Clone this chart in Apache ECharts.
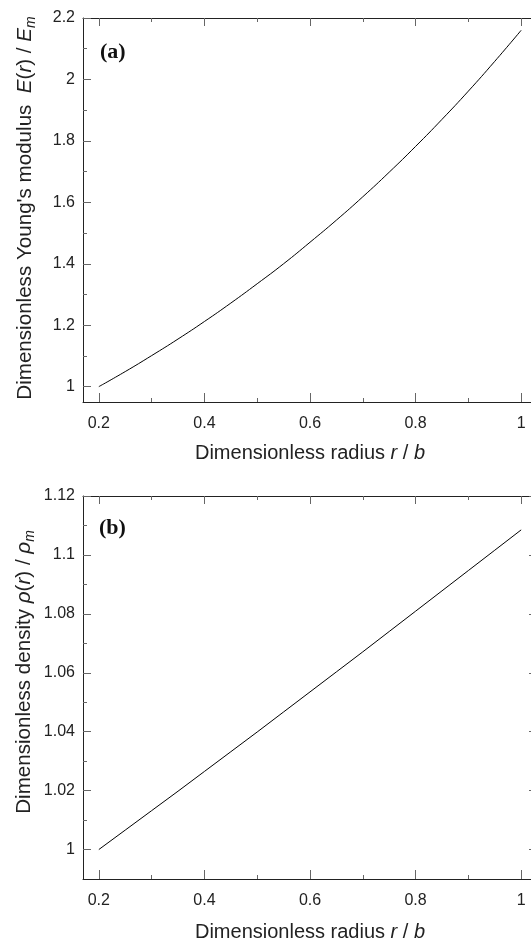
<!DOCTYPE html>
<html>
<head>
<meta charset="utf-8">
<script src="https://cdn.jsdelivr.net/npm/echarts@6/dist/echarts.min.js"></script>
<style>
  html, body { margin: 0; padding: 0; background: #fff; }
  #chart { width: 531px; height: 940px; }
</style>
</head>
<body>
<div id="chart"></div>
<script>
// radius r / b
const radius = [0.2, 0.25, 0.3, 0.35, 0.4, 0.45, 0.5, 0.55, 0.6, 0.65, 0.7, 0.75, 0.8, 0.85, 0.9, 0.95, 1.0];
// panel (a): E(r) / Em
const youngs = [1.000, 1.049, 1.101, 1.155, 1.212, 1.272, 1.335, 1.400, 1.470, 1.542, 1.618, 1.698, 1.782, 1.870, 1.962, 2.059, 2.160];
// panel (b): rho(r) / rho_m
const density = [1.000, 1.0066, 1.0132, 1.0198, 1.0265, 1.0332, 1.0399, 1.0467, 1.0535, 1.0603, 1.0671, 1.0740, 1.0809, 1.0878, 1.0947, 1.1016, 1.1085];

const xMajor = [0.2, 0.4, 0.6, 0.8, 1.0];
const xMinor = [0.3, 0.5, 0.7, 0.9];
const yMajorA = [1.0, 1.2, 1.4, 1.6, 1.8, 2.0, 2.2];
const yMinorA = [1.1, 1.3, 1.5, 1.7, 1.9, 2.1];
const yMajorB = [1.0, 1.02, 1.04, 1.06, 1.08, 1.1, 1.12];
const yMinorB = [1.01, 1.03, 1.05, 1.07, 1.09, 1.11];

const FONT = 'Liberation Sans';
const lineCol = '#222';
const tickCol = '#666';
const fmt = v => String(+(+v).toFixed(3));

function xAxes(grid) {
  const base = { type: 'value', gridIndex: grid, min: 0.17, max: 1.03, splitLine: { show: false } };
  return [
    Object.assign({}, base, {
      position: 'bottom',
      axisLine: { show: true, lineStyle: { color: lineCol, width: 1 } },
      axisTick: { show: true, inside: true, length: 9, customValues: xMajor, lineStyle: { color: tickCol } },
      axisLabel: { show: true, customValues: xMajor, formatter: fmt, margin: 14, color: lineCol, fontSize: 16, fontFamily: FONT }
    }),
    Object.assign({}, base, {
      position: 'bottom',
      axisLine: { show: false },
      axisTick: { show: true, inside: true, length: 4, customValues: xMinor, lineStyle: { color: tickCol } },
      axisLabel: { show: false }
    }),
    Object.assign({}, base, {
      position: 'top',
      axisLine: { show: true, lineStyle: { color: lineCol, width: 1 } },
      axisTick: { show: true, inside: true, length: 8, customValues: xMajor, lineStyle: { color: tickCol } },
      axisLabel: { show: false }
    }),
    Object.assign({}, base, {
      position: 'top',
      axisLine: { show: false },
      axisTick: { show: true, inside: true, length: 4, customValues: xMinor, lineStyle: { color: tickCol } },
      axisLabel: { show: false }
    })
  ];
}

function yAxes(grid, min, max, major, minor, withRight) {
  const base = { type: 'value', gridIndex: grid, min: min, max: max, splitLine: { show: false } };
  const list = [
    Object.assign({}, base, {
      position: 'left',
      axisLine: { show: true, lineStyle: { color: lineCol, width: 1 } },
      axisTick: { show: true, inside: true, length: 8, customValues: major, lineStyle: { color: tickCol } },
      axisLabel: { show: true, customValues: major, formatter: fmt, margin: 8, color: lineCol, fontSize: 16, fontFamily: FONT }
    }),
    Object.assign({}, base, {
      position: 'left',
      axisLine: { show: false },
      axisTick: { show: true, inside: true, length: 4, customValues: minor, lineStyle: { color: tickCol } },
      axisLabel: { show: false }
    })
  ];
  if (withRight) {
    list.push(Object.assign({}, base, {
      position: 'right',
      axisLine: { show: true, lineStyle: { color: lineCol, width: 1 } },
      axisTick: { show: true, inside: true, length: 8, customValues: major, lineStyle: { color: tickCol } },
      axisLabel: { show: false }
    }));
  }
  return list;
}

const xA = xAxes(0), xB = xAxes(1);
const yA = yAxes(0, 0.95, 2.2, yMajorA, yMinorA, false);
const yB = yAxes(1, 0.99, 1.12, yMajorB, yMinorB, true);

function makeRich(size) {
  return {
    i: { fontStyle: 'italic', fontSize: size, fontFamily: FONT, lineHeight: 26 },
    sub: { fontStyle: 'italic', fontSize: 14, fontFamily: FONT, lineHeight: 14, verticalAlign: 'bottom' }
  };
}

function nameText(x, y, text, rotate, size) {
  return {
    type: 'text', x: x, y: y, rotation: rotate ? Math.PI / 2 : 0,
    style: {
      text: text, rich: makeRich(size), fontSize: size, fontFamily: FONT, lineHeight: 26,
      fill: lineCol, align: 'center', verticalAlign: 'middle'
    }
  };
}

const chart = echarts.init(document.getElementById('chart'));
chart.setOption({
  animation: false,
  backgroundColor: '#fff',
  grid: [
    { left: 83, top: 18, width: 454, height: 384, outerBoundsMode: 'none' },
    { left: 83, top: 496, width: 454, height: 383, outerBoundsMode: 'none' }
  ],
  xAxis: xA.concat(xB),
  yAxis: yA.concat(yB),
  series: [
    {
      type: 'line', xAxisIndex: 0, yAxisIndex: 0, showSymbol: false, smooth: true,
      data: radius.map((r, k) => [r, youngs[k]]),
      lineStyle: { color: '#000', width: 1 }
    },
    {
      type: 'line', xAxisIndex: 4, yAxisIndex: 2, showSymbol: false, smooth: false,
      data: radius.map((r, k) => [r, density[k]]),
      lineStyle: { color: '#000', width: 1 }
    }
  ],
  graphic: [
    nameText(310, 453, 'Dimensionless radius {i|r} / {i|b}', false, 20),
    nameText(310, 932, 'Dimensionless radius {i|r} / {i|b}', false, 20),
    nameText(25, 208, 'Dimensionless Young\'s modulus  {i|E}({i|r}) / {i|E}{sub|m}', true, 20.6),
    nameText(24, 672, 'Dimensionless density {i|ρ}({i|r}) / {i|ρ}{sub|m}', true, 20.6),
    {
      type: 'text', x: 100, y: 52,
      style: { text: '(a)', fontSize: 22, fontWeight: 'bold', fontFamily: 'Liberation Serif', fill: '#111', align: 'left', verticalAlign: 'middle' }
    },
    {
      type: 'text', x: 99, y: 528,
      style: { text: '(b)', fontSize: 22, fontWeight: 'bold', fontFamily: 'Liberation Serif', fill: '#111', align: 'left', verticalAlign: 'middle' }
    }
  ]
});
</script>
</body>
</html>
